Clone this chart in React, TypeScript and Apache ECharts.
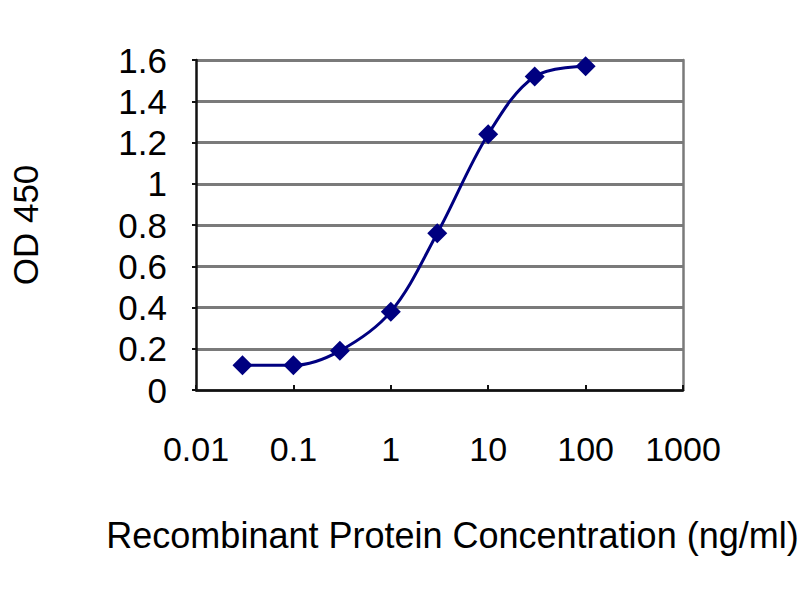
import React, { useEffect, useRef } from "react";
import * as echarts from "echarts";

const concentrations = [0.03, 0.1, 0.3, 1, 3, 10, 30, 100];
const odValues = [0.12, 0.12, 0.19, 0.38, 0.76, 1.24, 1.52, 1.57];
const xTickLabels = ["0.01", "0.1", "1", "10", "100", "1000"];
const xTitle = "Recombinant Protein Concentration (ng/ml)";
const yTitle = "OD 450";

const FONT = "'Liberation Sans', Arial, sans-serif";

export default function App() {
  const ref = useRef<HTMLDivElement>(null);
  useEffect(() => {
    if (!ref.current) return;
    const chart = echarts.init(ref.current, undefined, { renderer: "svg" });
    chart.setOption({
      animation: false,
      backgroundColor: "#ffffff",
      textStyle: { fontFamily: FONT },
      grid: { left: 186, right: 117, top: 60, bottom: 210 },
      xAxis: {
        type: "log",
        logBase: 10,
        min: 0.01,
        max: 1000,
        name: xTitle,
        nameLocation: "middle",
        nameGap: 127,
        nameTextStyle: {
          fontSize: 36,
          color: "#000",
          fontFamily: FONT,
          verticalAlign: "top",
          padding: [0, 0, 0, 26],
        },
        axisLine: { show: true, lineStyle: { color: "#111", width: 2.5 } },
        axisTick: { show: true, inside: true, length: 5, lineStyle: { color: "#111", width: 2 } },
        minorTick: { show: false },
        splitLine: { show: false },
        axisLabel: {
          fontSize: 34,
          color: "#000",
          margin: 42,
          fontFamily: FONT,
          formatter: (v: number) => {
            const i = Math.round(Math.log10(v)) + 2;
            return xTickLabels[i] ?? "";
          },
        },
      },
      yAxis: [
        {
          type: "value",
          min: 0,
          max: 1.6,
          interval: 0.2,
          name: yTitle,
          nameLocation: "middle",
          nameGap: 153,
          nameRotate: 90,
          nameTextStyle: { fontSize: 35, color: "#000", fontFamily: FONT },
          axisLine: { show: true, lineStyle: { color: "#111", width: 2.5 } },
          axisTick: { show: true, length: 4, lineStyle: { color: "#111", width: 2 } },
          splitLine: { show: true, lineStyle: { color: "#7a7a7a", width: 3 } },
          axisLabel: { fontSize: 35, color: "#000", margin: 29, fontFamily: FONT },
        },
        {
          type: "value",
          position: "right",
          min: 0,
          max: 1.6,
          interval: 0.2,
          axisLine: { show: true, lineStyle: { color: "#7a7a7a", width: 2.5 } },
          axisTick: { show: false },
          axisLabel: { show: false },
          splitLine: { show: false },
        },
      ],
      series: [
        {
          type: "line",
          data: concentrations.map((c, i) => [c, odValues[i]]),
          smooth: 0.35,
          symbol: "diamond",
          symbolSize: 20,
          itemStyle: { color: "#000080" },
          lineStyle: { color: "#000080", width: 3 },
        },
      ],
    });
    return () => chart.dispose();
  }, []);
  return (
    <div
      ref={ref}
      style={{ position: "absolute", left: 0, top: 0, width: 800, height: 600 }}
    />
  );
}
